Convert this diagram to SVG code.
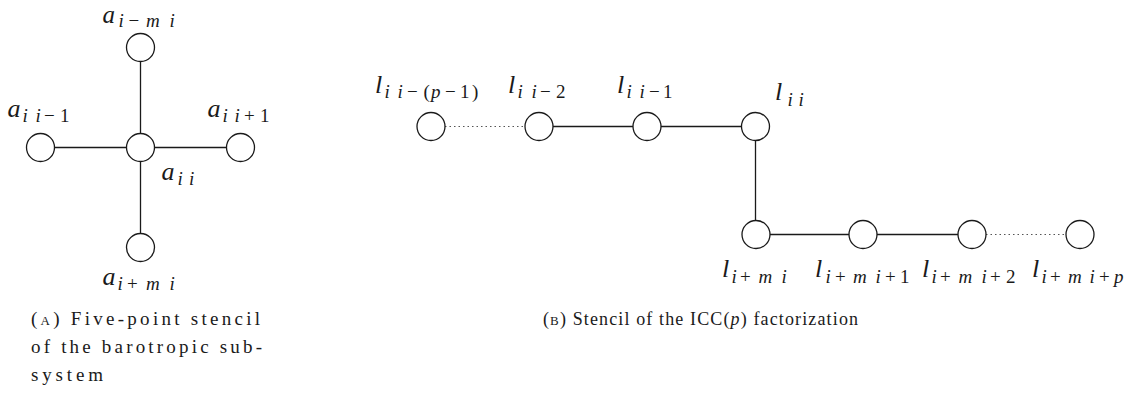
<svg xmlns="http://www.w3.org/2000/svg" width="1142" height="398" viewBox="0 0 1142 398">
<style>
.node{fill:#fff;stroke:#1a1a1a;stroke-width:1.3}
.edge{stroke:#1a1a1a;stroke-width:1.3;fill:none}
.dot{stroke:#555;stroke-width:1;stroke-dasharray:1.5 3;fill:none}
.m{font-family:"Liberation Serif",serif;font-style:italic;font-size:26px;fill:#1a1a1a}
.s{font-family:"Liberation Serif",serif;font-style:italic;font-size:19px;fill:#1a1a1a}
.u{font-style:normal}
.cap{font-family:"Liberation Serif",serif;font-size:18px;fill:#1a1a1a}
.capA{font-family:"Liberation Serif",serif;font-size:19px;fill:#1a1a1a}
.sc{font-size:13px}
</style>
<rect width="1142" height="398" fill="#fff"/>
<g id="connectors">
<line class="edge" x1="140.5" y1="61.5" x2="140.5" y2="233.5"/>
<line class="edge" x1="54.5" y1="147.5" x2="226.5" y2="147.5"/>
<line class="dot" x1="445" y1="126.5" x2="525" y2="126.5"/>
<line class="edge" x1="553" y1="126.5" x2="633" y2="126.5"/>
<line class="edge" x1="661" y1="126.5" x2="741.5" y2="126.5"/>
<line class="edge" x1="755.5" y1="140.5" x2="755.5" y2="220.5"/>
<line class="edge" x1="770" y1="234.5" x2="849" y2="234.5"/>
<line class="edge" x1="877" y1="234.5" x2="958" y2="234.5"/>
<line class="dot" x1="986" y1="234.5" x2="1066" y2="234.5"/>
</g>
<g id="a-top"><circle class="node" cx="140.5" cy="47.5" r="14"/>
<text class="m" x="102.5" y="23" style="font-size:25px">a</text>
<text class="s" y="27"><tspan x="118.5">i</tspan><tspan class="u" x="128.5">−</tspan><tspan x="146">m</tspan><tspan x="169.5">i</tspan></text></g>
<g id="a-left"><circle class="node" cx="40.5" cy="147.5" r="14"/>
<text class="m" x="7.5" y="117">a</text>
<text class="s" y="122"><tspan x="22.5">i</tspan><tspan x="35.5">i</tspan><tspan class="u" x="44">−</tspan><tspan class="u" x="60">1</tspan></text></g>
<g id="a-center"><circle class="node" cx="140.5" cy="147.5" r="14"/>
<text class="m" x="161.5" y="180">a</text>
<text class="s" y="185"><tspan x="177.5">i</tspan><tspan x="189">i</tspan></text></g>
<g id="a-right"><circle class="node" cx="240.5" cy="147.5" r="14"/>
<text class="m" x="207.5" y="117">a</text>
<text class="s" y="122"><tspan x="222.5">i</tspan><tspan x="234.5">i</tspan><tspan class="u" x="244">+</tspan><tspan class="u" x="260">1</tspan></text></g>
<g id="a-bottom"><circle class="node" cx="140.5" cy="247.5" r="14"/>
<text class="m" x="102.5" y="285">a</text>
<text class="s" y="290"><tspan x="117.5">i</tspan><tspan class="u" x="127">+</tspan><tspan x="146">m</tspan><tspan x="169.5">i</tspan></text></g>
<g id="l1"><circle class="node" cx="431" cy="126.5" r="14"/>
<text class="m" x="375" y="93">l</text>
<text class="s" y="98"><tspan x="384.5">i</tspan><tspan x="397.5">i</tspan><tspan class="u" x="407">−</tspan><tspan class="u" x="423.5">(</tspan><tspan x="431">p</tspan><tspan class="u" x="445">−</tspan><tspan class="u" x="460">1</tspan><tspan class="u" x="472">)</tspan></text></g>
<g id="l2"><circle class="node" cx="539" cy="126.5" r="14"/>
<text class="m" x="508" y="93">l</text>
<text class="s" y="98"><tspan x="517.5">i</tspan><tspan x="531.5">i</tspan><tspan class="u" x="540">−</tspan><tspan class="u" x="556">2</tspan></text></g>
<g id="l3"><circle class="node" cx="647" cy="126.5" r="14"/>
<text class="m" x="617" y="93">l</text>
<text class="s" y="98"><tspan x="626.5">i</tspan><tspan x="639.5">i</tspan><tspan class="u" x="649">−</tspan><tspan class="u" x="663">1</tspan></text></g>
<g id="l4"><circle class="node" cx="755.5" cy="126.5" r="14"/>
<text class="m" x="775" y="100">l</text>
<text class="s" y="106"><tspan x="787.5">i</tspan><tspan x="798.5">i</tspan></text></g>
<g id="l5"><circle class="node" cx="756" cy="234.5" r="14"/>
<text class="m" x="722" y="277">l</text>
<text class="s" y="283"><tspan x="731.5">i</tspan><tspan class="u" x="740">+</tspan><tspan x="758.5">m</tspan><tspan x="781.5">i</tspan></text></g>
<g id="l6"><circle class="node" cx="863" cy="234.5" r="14"/>
<text class="m" x="815" y="277">l</text>
<text class="s" y="283"><tspan x="825.5">i</tspan><tspan class="u" x="835">+</tspan><tspan x="853">m</tspan><tspan x="875.5">i</tspan><tspan class="u" x="885">+</tspan><tspan class="u" x="900">1</tspan></text></g>
<g id="l7"><circle class="node" cx="972" cy="234.5" r="14"/>
<text class="m" x="922" y="277">l</text>
<text class="s" y="283"><tspan x="931.5">i</tspan><tspan class="u" x="940">+</tspan><tspan x="958.5">m</tspan><tspan x="981.5">i</tspan><tspan class="u" x="990">+</tspan><tspan class="u" x="1006">2</tspan></text></g>
<g id="l8"><circle class="node" cx="1080" cy="234.5" r="14"/>
<text class="m" x="1032" y="277">l</text>
<text class="s" y="283"><tspan x="1041.5">i</tspan><tspan class="u" x="1050">+</tspan><tspan x="1068">m</tspan><tspan x="1089.5">i</tspan><tspan class="u" x="1099">+</tspan><tspan x="1114">p</tspan></text></g>
<g id="captions">
<text class="capA" x="31" y="325" textLength="229" lengthAdjust="spacing">(<tspan class="sc">A</tspan>) Five-point stencil</text>
<text class="capA" x="31" y="353" textLength="231" lengthAdjust="spacing">of the barotropic sub-</text>
<text class="capA" x="31" y="381" textLength="72" lengthAdjust="spacing">system</text>
<text class="cap" x="543" y="325" textLength="315" lengthAdjust="spacing">(<tspan class="sc">B</tspan>) Stencil of the ICC(<tspan font-style="italic">p</tspan>) factorization</text>
</g>
</svg>
